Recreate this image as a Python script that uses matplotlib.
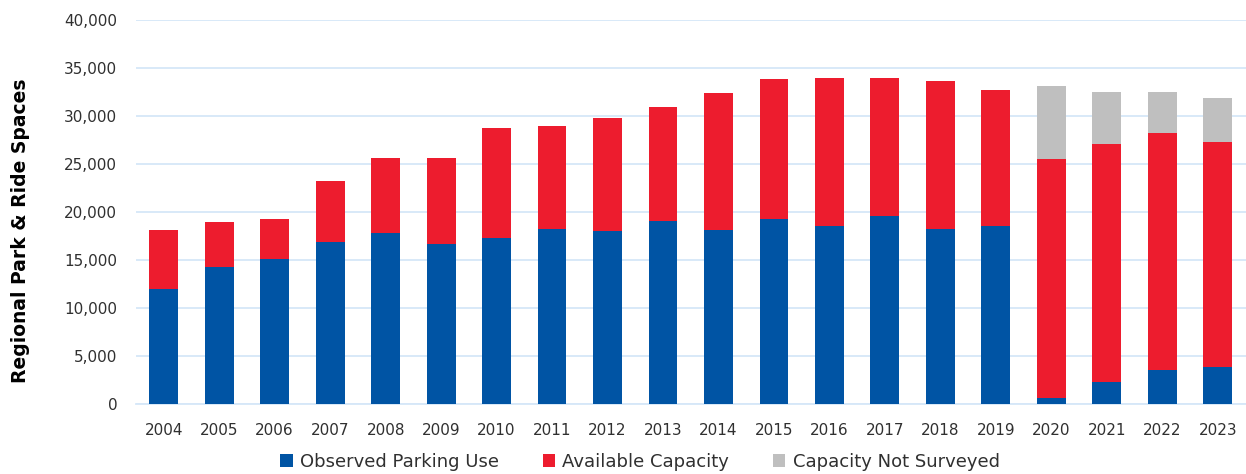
import matplotlib.pyplot as plt
from matplotlib.ticker import FuncFormatter

years = [str(y) for y in range(2004, 2024)]
observed = [12030, 14260, 15090, 16860, 17800, 16680, 17340, 18280, 18000, 19070,
            18140, 19250, 18590, 19590, 18280, 18590, 660, 2290, 3570, 3880]
available = [6110, 4680, 4160, 6410, 7860, 8980, 11380, 10710, 11830, 11870,
             14220, 14570, 15400, 14400, 15400, 14120, 24830, 24800, 24630, 23380]
not_surveyed = [0, 0, 0, 0, 0, 0, 0, 0, 0, 0,
                0, 0, 0, 0, 0, 0, 7670, 5440, 4330, 4640]

blue = '#0054A4'
red = '#ED1C2E'
grey = '#BFBFBF'
grid_col = '#D6E7F8'
text_col = '#303030'

plt.rcParams['font.family'] = ['DejaVu Sans']

fig = plt.figure(figsize=(12.46, 4.74), dpi=100)
ax = fig.add_axes([136 / 1246, 1 - 404.3 / 474, (1245.5 - 136) / 1246, (404.3 - 20) / 474])

x = list(range(len(years)))
w = 0.52
ax.bar(x, observed, w, color=blue, label='Observed Parking Use', zorder=3)
bottom2 = observed
ax.bar(x, available, w, bottom=bottom2, color=red, label='Available Capacity', zorder=3)
bottom3 = [o + a for o, a in zip(observed, available)]
ax.bar(x, not_surveyed, w, bottom=bottom3, color=grey, label='Capacity Not Surveyed', zorder=3)

ax.set_xlim(-0.5, len(years) - 0.5)
ax.set_ylim(0, 40000)
ax.set_yticks(range(0, 40001, 5000))
ax.yaxis.set_major_formatter(FuncFormatter(lambda v, p: f'{int(v):,}'))
ax.set_xticks(x)
ax.set_xticklabels(years)
ax.grid(axis='y', color=grid_col, linewidth=1.3, zorder=0)
for s in ['top', 'right', 'left']:
    ax.spines[s].set_visible(False)
ax.spines['bottom'].set_color(grid_col)
ax.spines['bottom'].set_linewidth(1.3)
ax.tick_params(axis='both', length=0, labelsize=11, colors=text_col)
ax.tick_params(axis='x', pad=13.5)
ax.tick_params(axis='y', pad=13.5)

fig.text(21 / 1246, 1 - 231 / 474, 'Regional Park & Ride Spaces', rotation=90,
         ha='center', va='center', fontsize=13.5, fontweight='bold', color='black')

fig.legend(loc='center', bbox_to_anchor=(640 / 1246, 1 - 462 / 474), ncol=3,
           frameon=False, fontsize=13, handlelength=0.7, handleheight=0.7,
           handletextpad=0.4, columnspacing=2.4, labelcolor=text_col)

fig.savefig('out.png', dpi=100)
